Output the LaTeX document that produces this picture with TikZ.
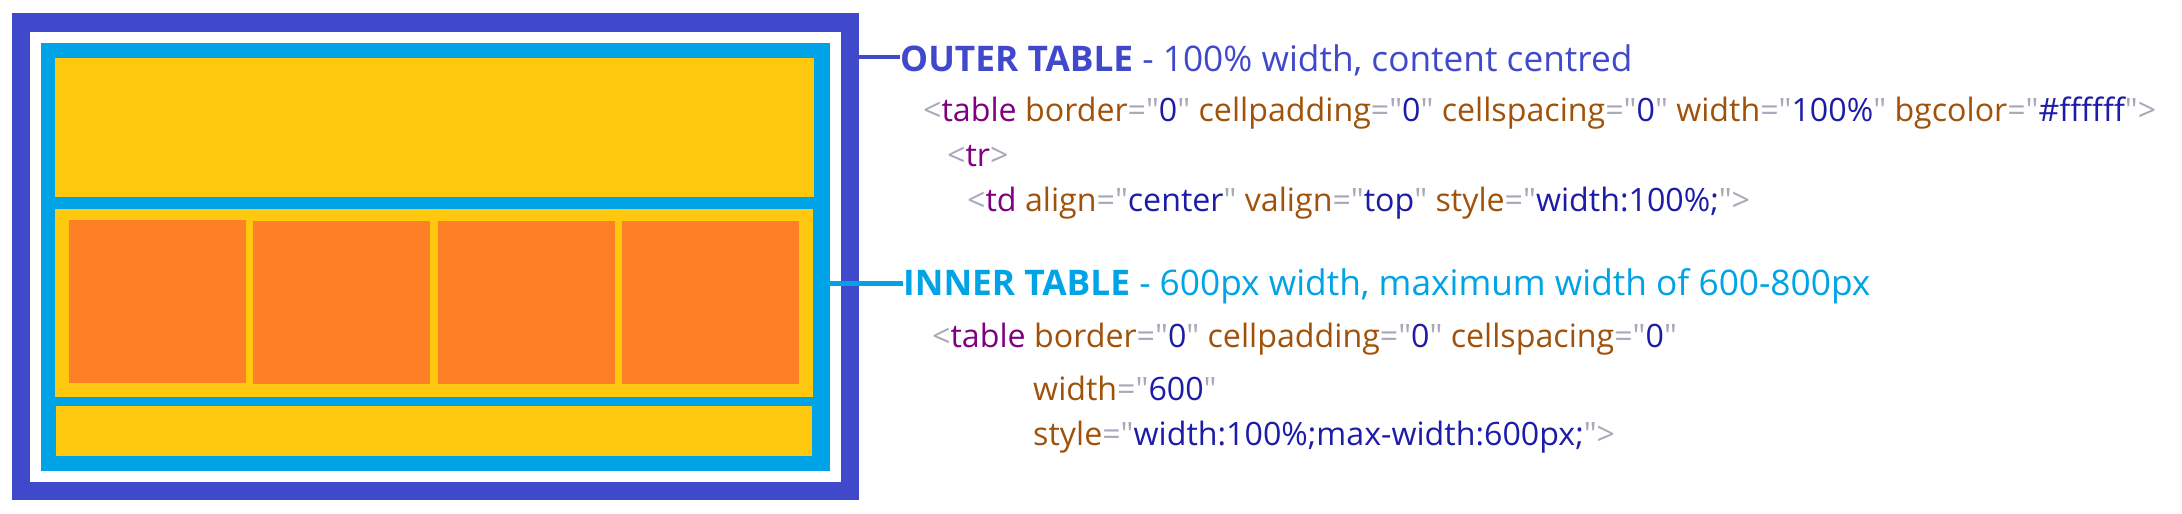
\documentclass[tikz,border=0pt]{standalone}
\usepackage{fontspec}
\setmainfont{Open Sans}[Ligatures=TeXOff]
\usetikzlibrary{positioning}

\definecolor{outerc}{HTML}{4049CC}
\definecolor{innerc}{HTML}{00A3E6}
\definecolor{cellc}{HTML}{FEC80E}
\definecolor{colc}{HTML}{FF7F27}
\definecolor{tagc}{HTML}{800080}
\definecolor{attrc}{HTML}{A0520A}
\definecolor{valc}{HTML}{1C1CA8}
\definecolor{puncc}{HTML}{A8A8B8}

\newcommand\tagopen[1]{\textcolor{puncc}{<}\textcolor{tagc}{#1}}
\newcommand\tagshut{\textcolor{puncc}{>}}
\newcommand\attrval[2]{\textcolor{attrc}{#1}\textcolor{puncc}{="}\textcolor{valc}{#2}\textcolor{puncc}{"}}

\begin{document}
\begin{tikzpicture}[x=1bp,y=-1bp]
  \tikzstyle{block}=[rectangle,inner sep=0pt,outer sep=0pt,anchor=north west]
  \tikzstyle{head}=[inner sep=0pt,anchor=base west,font=\fontsize{35.4}{43}\selectfont]
  \tikzstyle{code}=[inner sep=0pt,anchor=base west,font=\fontsize{32.3}{40}\selectfont]

  \useasboundingbox (0,0) rectangle (2182,514);

  % nested tables
  \node[block,fill=outerc,minimum width=847bp,minimum height=487bp] (outer) at (12,13) {};
  \node[block,fill=white,minimum width=811bp,minimum height=450bp] (gap) at (30,32) {};
  \node[block,fill=innerc,minimum width=789bp,minimum height=428bp] (inner) at (41,43) {};
  \node[block,fill=cellc,minimum width=759bp,minimum height=139bp] (toprow) at (55,58) {};
  \node[block,fill=cellc,minimum width=758bp,minimum height=188bp] (midrow) at (55,209) {};
  \node[block,fill=cellc,minimum width=756bp,minimum height=50bp] (botrow) at (56,406) {};
  \node[block,fill=colc,minimum width=177bp,minimum height=163bp] (colA) at (69,220) {};
  \node[block,fill=colc,minimum width=177bp,minimum height=163bp] (colB) at (253,221) {};
  \node[block,fill=colc,minimum width=177bp,minimum height=163bp] (colC) at (438,221) {};
  \node[block,fill=colc,minimum width=177bp,minimum height=163bp] (colD) at (622,221) {};

  % labels
  \node[head,text=outerc] (outerlabel) at (900,72) {\textbf{OUTER TABLE} - 100\% width, content centred};
  \node[code] (outercode) at (923,122) {\tagopen{table} \attrval{border}{0} \attrval{cellpadding}{0} \attrval{cellspacing}{0} \attrval{width}{100\%} \attrval{bgcolor}{\#ffffff}\tagshut};
  \node[code] (rowcode) at (947,167) {\tagopen{tr}\tagshut};
  \node[code] (cellcode) at (967,212) {\tagopen{td} \attrval{align}{center} \attrval{valign}{top} \attrval{style}{width:100\%;}\tagshut};

  \node[head,text=innerc] (innerlabel) at (903,295) {\textbf{INNER TABLE} - 600px width, maximum width of 600-800px};
  \node[code] (innercode) at (932,347) {\tagopen{table} \attrval{border}{0} \attrval{cellpadding}{0} \attrval{cellspacing}{0}};
  \node[code] (widthcode) at (1033,400) {\attrval{width}{600}};
  \node[code] (stylecode) at (1033,445) {\attrval{style}{width:100\%;max-width:600px;}\tagshut};

  % connectors
  \coordinate (outerjoin) at (859,57);
  \coordinate (innerjoin) at (830,283);
  \draw[outerc,line width=4.5bp] (outerjoin) -- (outerjoin -| outerlabel.west);
  \draw[innerc,line width=5bp] (innerjoin) -- (innerjoin -| innerlabel.west);
\end{tikzpicture}
\end{document}
